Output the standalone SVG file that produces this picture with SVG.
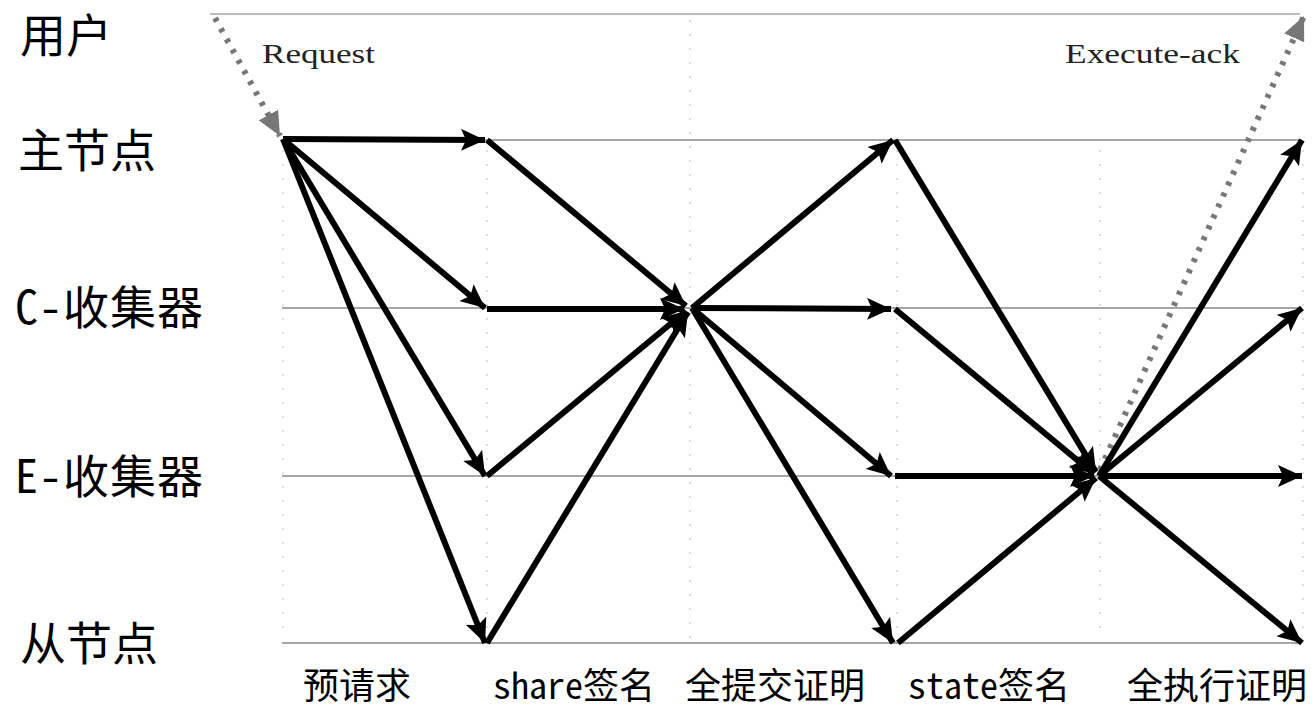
<svg xmlns="http://www.w3.org/2000/svg" width="1314" height="711" viewBox="0 0 1314 711">
<style>
.lbl{font-family:"Noto Sans Mono CJK SC","DejaVu Sans Mono","Noto Sans CJK SC",monospace;fill:#000}
.big{font-size:46px}
.sm{font-size:36px}
.ser{font-family:"Liberation Serif","DejaVu Serif",serif;font-size:27px;fill:#222}
.hl{stroke:#888;stroke-width:1.5}
.vl{stroke:#ddd;stroke-width:2;stroke-dasharray:2 12}
.a{stroke:#000;stroke-width:6;fill:none;marker-end:url(#ah)}
.d{stroke:#777;stroke-width:6;stroke-dasharray:4 8;fill:none;marker-end:url(#dh)}
</style>
<defs>
<marker id="ah" markerUnits="userSpaceOnUse" markerWidth="26" markerHeight="22" refX="24" refY="11" orient="auto">
<path d="M0,0 L24,11 L0,22 L5,11 Z" fill="#000"/>
</marker>
<marker id="dh" markerUnits="userSpaceOnUse" markerWidth="26" markerHeight="22" refX="24" refY="11" orient="auto">
<path d="M0,0 L24,11 L0,22 Z" fill="#777"/>
</marker>
</defs>
<rect width="1314" height="711" fill="#fff"/>
<g id="grid">
<line x1="210" y1="14" x2="1300" y2="14" stroke="#bbb" stroke-width="2"/>
<line class="hl" x1="282" y1="140" x2="1300" y2="140"/>
<line class="hl" x1="282" y1="308" x2="1300" y2="308"/>
<line class="hl" x1="282" y1="476" x2="1300" y2="476"/>
<line class="hl" x1="282" y1="643" x2="1300" y2="643"/>
<line class="vl" x1="283" y1="150" x2="283" y2="640"/>
<line class="vl" x1="487" y1="150" x2="487" y2="640"/>
<line class="vl" x1="690" y1="20" x2="690" y2="640"/>
<line class="vl" x1="897" y1="150" x2="897" y2="640"/>
<line class="vl" x1="1100" y1="150" x2="1100" y2="640"/>
<line class="vl" x1="1303" y1="150" x2="1303" y2="640"/>
</g>
<g id="node-user"><text class="lbl big" x="20" y="52">用户</text></g>
<g id="node-primary"><text class="lbl big" x="18" y="167">主节点</text></g>
<g id="node-c"><text class="lbl big" x="15" y="324" textLength="188" lengthAdjust="spacing">C-收集器</text></g>
<g id="node-e"><text class="lbl big" x="15" y="493" textLength="188" lengthAdjust="spacing">E-收集器</text></g>
<g id="node-slave"><text class="lbl big" x="20" y="660">从节点</text></g>
<g id="phase-labels">
<text class="lbl sm" x="303" y="699">预请求</text>
<text class="lbl sm" x="493" y="699" textLength="162" lengthAdjust="spacing">share签名</text>
<text class="lbl sm" x="685" y="699">全提交证明</text>
<text class="lbl sm" x="908" y="699" textLength="162" lengthAdjust="spacing">state签名</text>
<text class="lbl sm" x="1127" y="699">全执行证明</text>
<text class="ser" x="262" y="63" textLength="113" lengthAdjust="spacingAndGlyphs">Request</text>
<text class="ser" x="1065" y="63" textLength="175" lengthAdjust="spacingAndGlyphs">Execute-ack</text>
</g>
<g id="connectors">
<line class="d" x1="215" y1="18" x2="280" y2="136"/>
<line class="d" x1="1100" y1="470" x2="1304" y2="16"/>
<line class="a" x1="283" y1="139" x2="485" y2="140"/>
<line class="a" x1="283" y1="139" x2="485" y2="308"/>
<line class="a" x1="283" y1="139" x2="485" y2="476"/>
<line class="a" x1="283" y1="139" x2="485" y2="643"/>
<line class="a" x1="487" y1="140" x2="686" y2="306"/>
<line class="a" x1="487" y1="309" x2="684" y2="309"/>
<line class="a" x1="487" y1="476" x2="686" y2="311"/>
<line class="a" x1="487" y1="643" x2="688" y2="312"/>
<line class="a" x1="692" y1="308" x2="893" y2="140"/>
<line class="a" x1="692" y1="308" x2="891" y2="309"/>
<line class="a" x1="692" y1="308" x2="891" y2="476"/>
<line class="a" x1="692" y1="308" x2="893" y2="643"/>
<line class="a" x1="895" y1="140" x2="1096" y2="472"/>
<line class="a" x1="895" y1="309" x2="1094" y2="474"/>
<line class="a" x1="895" y1="476" x2="1094" y2="476"/>
<line class="a" x1="898" y1="643" x2="1096" y2="478"/>
<line class="a" x1="1099" y1="476" x2="1302" y2="140"/>
<line class="a" x1="1099" y1="476" x2="1302" y2="308"/>
<line class="a" x1="1099" y1="476" x2="1302" y2="476"/>
<line class="a" x1="1099" y1="476" x2="1302" y2="643"/>
</g>
</svg>
